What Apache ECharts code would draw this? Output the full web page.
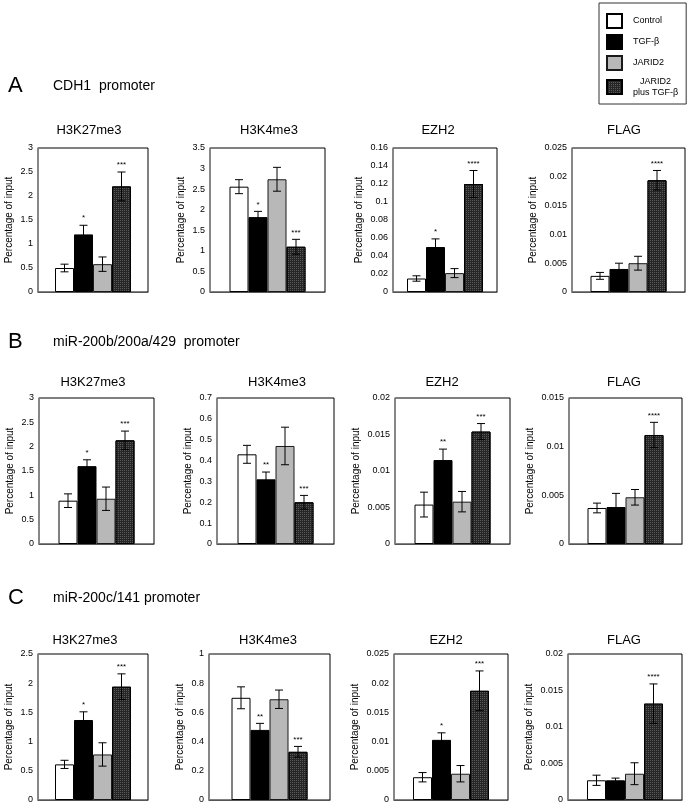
<!DOCTYPE html>
<html><head><meta charset="utf-8">
<script src="https://cdn.jsdelivr.net/npm/echarts@6/dist/echarts.min.js"></script>
<style>html,body{margin:0;padding:0;background:#fff}#c{width:689px;height:809px}</style>
</head><body><div id="c"></div>
<script>
// ---------- DATA ----------
const groups = ['Control', 'TGF-β', 'JARID2', 'JARID2 plus TGF-β'];
const panelTitles = ['H3K27me3', 'H3K4me3', 'EZH2', 'FLAG'];
const rowLetters = ['A', 'B', 'C'];
const rowPromoters = ['CDH1  promoter', 'miR-200b/200a/429  promoter', 'miR-200c/141 promoter'];
const yAxisName = 'Percentage of input';

// Row A: CDH1 promoter  (per panel: Control, TGF-β, JARID2, JARID2 plus TGF-β)
const cdh1Means  = [[0.5, 1.2, 0.58, 2.2], [2.56, 1.82, 2.74, 1.1], [0.015, 0.05, 0.021, 0.12], [0.0028, 0.004, 0.005, 0.0194]];
const cdh1Errors = [[0.08, 0.19, 0.15, 0.3], [0.17, 0.14, 0.29, 0.18], [0.003, 0.009, 0.005, 0.015], [0.0006, 0.001, 0.0012, 0.0017]];
const cdh1Stars  = [['', '*', '', '***'], ['', '*', '', '***'], ['', '*', '', '****'], ['', '', '', '****']];
const cdh1AxisMax  = [3, 3.5, 0.16, 0.025];
const cdh1AxisStep = [0.5, 0.5, 0.02, 0.005];

// Row B: miR-200b/200a/429 promoter
const mir200bMeans  = [[0.89, 1.6, 0.93, 2.13], [0.43, 0.31, 0.47, 0.2], [0.0054, 0.0115, 0.0058, 0.0154], [0.0037, 0.0038, 0.0048, 0.0112]];
const mir200bErrors = [[0.14, 0.13, 0.24, 0.19], [0.043, 0.035, 0.09, 0.033], [0.0017, 0.0015, 0.0014, 0.0011], [0.0005, 0.0014, 0.0008, 0.0013]];
const mir200bStars  = [['', '*', '', '***'], ['', '**', '', '***'], ['', '**', '', '***'], ['', '', '', '****']];
const mir200bAxisMax  = [3, 0.7, 0.02, 0.015];
const mir200bAxisStep = [0.5, 0.1, 0.005, 0.005];

// Row C: miR-200c/141 promoter
const mir200cMeans  = [[0.61, 1.37, 0.78, 1.94], [0.7, 0.48, 0.69, 0.33], [0.0039, 0.0103, 0.0045, 0.0187], [0.0027, 0.0027, 0.0036, 0.0132]];
const mir200cErrors = [[0.07, 0.14, 0.2, 0.22], [0.075, 0.045, 0.063, 0.037], [0.0008, 0.0012, 0.0014, 0.0034], [0.0007, 0.0003, 0.0015, 0.0027]];
const mir200cStars  = [['', '*', '', '***'], ['', '**', '', '***'], ['', '*', '', '***'], ['', '', '', '****']];
const mir200cAxisMax  = [2.5, 1, 0.025, 0.02];
const mir200cAxisStep = [0.5, 0.2, 0.005, 0.005];

const rowData = [
  {means: cdh1Means, errs: cdh1Errors, stars: cdh1Stars, max: cdh1AxisMax, step: cdh1AxisStep},
  {means: mir200bMeans, errs: mir200bErrors, stars: mir200bStars, max: mir200bAxisMax, step: mir200bAxisStep},
  {means: mir200cMeans, errs: mir200cErrors, stars: mir200cStars, max: mir200cAxisMax, step: mir200cAxisStep}
];

// ---------- LAYOUT ----------
const FONT = '"Liberation Sans", Arial, Helvetica, sans-serif';
const rowLayout = [
  {top: 148, bottom: 292, cols: [[38, 148], [210, 325], [393, 497], [572, 685]], titleY: 130, titleX: [89, 269, 438, 624], headY: 86},
  {top: 398, bottom: 544, cols: [[39, 154], [217, 334], [395, 510], [569, 682]], titleY: 382, titleX: [93, 277, 442, 624], headY: 342},
  {top: 654, bottom: 800, cols: [[38, 148], [209, 330], [394, 508], [568, 682]], titleY: 640, titleX: [85, 268, 446, 624], headY: 598}
];
const GROUP_W = 76;

const barStyles = [
  {color: '#ffffff', borderColor: '#000', borderWidth: 1},
  {color: '#000000', borderColor: '#000', borderWidth: 1},
  {color: '#b8b8b8', borderColor: '#1a1a1a', borderWidth: 1},
  {color: '#262626', borderColor: '#000', borderWidth: 1,
   decal: {symbol: 'rect', symbolSize: 1, color: 'rgba(95,95,95,0.9)', dashArrayX: [1, 1], dashArrayY: [1, 1], rotation: 0}}
];

const measureCtx = document.createElement('canvas').getContext('2d');
measureCtx.font = '9px ' + FONT;
function fmt(v) { return String(Number(v.toFixed(6))); }
function maxLabelWidth(max, step) {
  let w = 0;
  for (let k = 0; k * step <= max + 1e-9; k++) w = Math.max(w, measureCtx.measureText(fmt(k * step)).width);
  return w;
}

const grids = [], xAxes = [], yAxes = [], series = [], graphics = [];
let p = 0;
rowLayout.forEach((row, r) => {
  const d = rowData[r];
  graphics.push({type: 'text', x: 8, y: row.headY, style: {text: rowLetters[r], fill: '#000', font: '22px ' + FONT, textVerticalAlign: 'middle', verticalAlign: 'middle'}});
  graphics.push({type: 'text', x: 53, y: row.headY, style: {text: rowPromoters[r], fill: '#000', font: '14px ' + FONT, textVerticalAlign: 'middle', verticalAlign: 'middle'}});
  row.cols.forEach((col, c) => {
    const W = col[1] - col[0];
    grids.push({left: col[0], top: row.top, width: W, height: row.bottom - row.top, show: true, borderColor: '#000', borderWidth: 1, backgroundColor: 'transparent'});
    graphics.push({type: 'text', x: row.titleX[c], y: row.titleY, style: {text: panelTitles[c], fill: '#000', font: '13px ' + FONT, textAlign: 'center', align: 'center', textVerticalAlign: 'middle', verticalAlign: 'middle'}});
    xAxes.push({type: 'category', gridIndex: p, data: [''], axisLine: {show: true, lineStyle: {color: '#555', width: 1}}, axisTick: {show: false}, axisLabel: {show: false}, splitLine: {show: false}});
    const lw = maxLabelWidth(d.max[c], d.step[c]);
    yAxes.push({type: 'value', gridIndex: p, min: 0, max: d.max[c], interval: d.step[c],
      name: yAxisName, nameLocation: 'middle', nameGap: 5 + lw + 6,
      nameTextStyle: {fontSize: 10, fontFamily: FONT, color: '#000'},
      axisLine: {show: true, lineStyle: {color: '#8a8a8a', width: 1.5}},
      axisTick: {show: false}, splitLine: {show: false},
      axisLabel: {fontSize: 9, fontFamily: FONT, color: '#000', margin: 5, formatter: v => fmt(v)}});
    const gapPct = Math.max(0, (W - GROUP_W) / W * 100);
    groups.forEach((g, i) => {
      series.push({type: 'bar', name: g, xAxisIndex: p, yAxisIndex: p, data: [d.means[c][i]],
        barGap: '0%', barCategoryGap: gapPct + '%', itemStyle: barStyles[i], emphasis: {disabled: true}, animation: false});
    });
    const stars = d.stars[c];
    const errData = d.means[c].map((v, i) => [0, v, i, d.errs[c][i]]);
    series.push({type: 'custom', xAxisIndex: p, yAxisIndex: p, data: errData, encode: {x: 0, y: 1}, z: 5, animation: false, silent: true,
      renderItem: (function (gp, starList) {
        return function (params, api) {
          const v = api.value(1), i = api.value(2), e = api.value(3);
          const base = api.coord([0, v]);
          const catW = api.size([1, 0])[0];
          const groupW = catW * (1 - gp / 100);
          const bw = groupW / 4;
          const x = base[0] - groupW / 2 + bw * (i + 0.5);
          const yT = api.coord([0, v + e])[1];
          const yB = api.coord([0, v - e])[1];
          const cap = 4;
          const ls = {stroke: '#000', lineWidth: 1};
          const children = [
            {type: 'line', shape: {x1: x, y1: yT, x2: x, y2: yB}, style: ls},
            {type: 'line', shape: {x1: x - cap, y1: yT, x2: x + cap, y2: yT}, style: ls},
            {type: 'line', shape: {x1: x - cap, y1: yB, x2: x + cap, y2: yB}, style: ls}
          ];
          const s = starList[params.dataIndex];
          if (s) children.push({type: 'text', style: {text: s, x: x, y: yT - 3, fill: '#000', font: '8px ' + FONT, textAlign: 'center', align: 'center', textVerticalAlign: 'bottom', verticalAlign: 'bottom'}});
          return {type: 'group', children: children};
        };
      })(gapPct, stars)});
    p++;
  });
});

const chart = echarts.init(document.getElementById('c'), null, {renderer: 'canvas'});
chart.setOption({
  animation: false,
  backgroundColor: '#fff',
  grid: grids, xAxis: xAxes, yAxis: yAxes, series: series, graphic: graphics,
  legend: {
    data: groups, orient: 'vertical', left: 599, top: 3, padding: [10, 8, 6, 7], itemGap: 5,
    itemWidth: 15, itemHeight: 14, icon: 'rect', borderColor: '#333', borderWidth: 1, selectedMode: false,
    textStyle: {fontSize: 9, fontFamily: FONT, color: '#000', lineHeight: 11, padding: [0, 0, 0, 6],
      rich: {a: {align: 'center', fontSize: 9, fontFamily: FONT, lineHeight: 11}}},
    formatter: n => n === 'JARID2 plus TGF-β' ? '{a|JARID2}\n{a|plus TGF-β}' : n
  }
});
</script></body></html>
